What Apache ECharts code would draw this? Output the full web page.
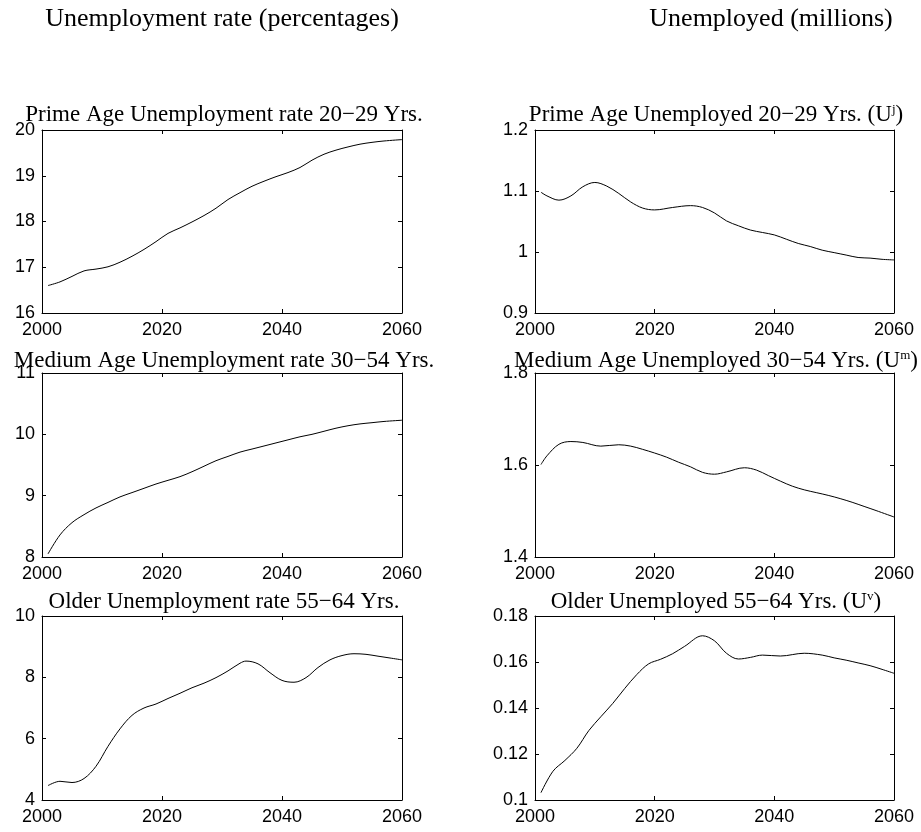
<!DOCTYPE html>
<html>
<head>
<meta charset="utf-8">
<script src="https://cdn.jsdelivr.net/npm/echarts@6/dist/echarts.min.js"></script>
<style>
  html, body { margin: 0; padding: 0; background: #fff; }
  #chart { width: 921px; height: 832px; }
</style>
</head>
<body>
<div id="chart"></div>
<script>
// ---- Unemployment rate (percent) by age group ----
const rateYoungYears = [2001, 2003, 2005, 2007, 2009, 2011, 2013, 2015, 2017, 2019,
                        2021, 2023, 2025, 2027, 2029, 2031, 2033, 2035, 2037, 2039,
                        2041, 2043, 2045, 2047, 2049, 2051, 2053, 2055, 2057, 2060];
const rateYoung = [16.60, 16.68, 16.80, 16.92, 16.96, 17.01, 17.11, 17.24, 17.39, 17.56,
                   17.74, 17.86, 17.99, 18.13, 18.29, 18.48, 18.63, 18.77, 18.88, 18.98,
                   19.07, 19.18, 19.34, 19.47, 19.56, 19.63, 19.69, 19.73, 19.76, 19.79];

const rateMediumYears = [2001, 2003, 2005, 2007, 2009, 2011, 2013, 2015, 2017, 2019,
                         2021, 2023, 2025, 2027, 2029, 2031, 2033, 2035, 2037, 2039,
                         2041, 2043, 2045, 2047, 2049, 2051, 2053, 2055, 2057, 2060];
const rateMedium = [8.05, 8.36, 8.56, 8.69, 8.80, 8.89, 8.98, 9.05, 9.12, 9.19,
                    9.25, 9.31, 9.39, 9.48, 9.57, 9.64, 9.71, 9.76, 9.81, 9.86,
                    9.91, 9.96, 10.00, 10.05, 10.10, 10.14, 10.17, 10.19, 10.21, 10.23];

const rateOlderYears = [2001, 2003, 2005, 2007, 2009, 2011, 2013, 2015, 2017, 2019,
                        2021, 2023, 2025, 2027, 2029, 2031, 2033, 2034, 2036, 2038,
                        2040, 2042, 2044, 2046, 2048, 2050, 2052, 2054, 2056, 2058, 2060];
const rateOlder = [4.47, 4.61, 4.57, 4.70, 5.10, 5.75, 6.32, 6.76, 7.00, 7.13,
                   7.31, 7.48, 7.66, 7.81, 7.99, 8.21, 8.46, 8.53, 8.44, 8.15,
                   7.90, 7.84, 7.99, 8.32, 8.57, 8.71, 8.77, 8.75, 8.69, 8.63, 8.57];

// ---- Unemployed persons (millions) by age group ----
const unempYoungYears = [2001, 2002, 2004, 2006, 2008, 2010, 2012, 2014, 2016, 2018,
                         2020, 2023, 2026, 2028, 2030, 2032, 2034, 2036, 2038, 2040,
                         2042, 2044, 2046, 2048, 2050, 2052, 2054, 2056, 2058, 2060];
const unempYoung = [1.098, 1.092, 1.085, 1.092, 1.107, 1.114, 1.108, 1.096, 1.082, 1.072,
                    1.069, 1.073, 1.076, 1.073, 1.064, 1.051, 1.043, 1.036, 1.032, 1.028,
                    1.021, 1.014, 1.009, 1.003, 0.999, 0.995, 0.991, 0.990, 0.988, 0.987];

const unempMediumYears = [2001, 2002, 2004, 2006, 2008, 2011, 2014, 2016, 2018, 2020,
                          2022, 2024, 2026, 2028, 2030, 2032, 2035, 2037, 2039, 2041,
                          2043, 2045, 2047, 2049, 2051, 2053, 2055, 2057, 2060];
const unempMedium = [1.601, 1.620, 1.645, 1.651, 1.649, 1.641, 1.644, 1.641, 1.634, 1.626,
                     1.617, 1.606, 1.596, 1.584, 1.580, 1.585, 1.594, 1.589, 1.577, 1.565,
                     1.554, 1.546, 1.540, 1.534, 1.527, 1.519, 1.510, 1.501, 1.487];

const unempOlderYears = [2001, 2003, 2005, 2007, 2009, 2011, 2013, 2015, 2017, 2019,
                         2021, 2023, 2025, 2028, 2030, 2032, 2034, 2036, 2038, 2041,
                         2045, 2048, 2050, 2052, 2054, 2056, 2058, 2060];
const unempOlder = [0.1032, 0.1125, 0.1172, 0.1225, 0.1302, 0.1362, 0.1420, 0.1485, 0.1545, 0.1592,
                    0.1612, 0.1636, 0.1668, 0.1714, 0.1692, 0.1638, 0.1613, 0.1620, 0.1630, 0.1626,
                    0.1638, 0.1630, 0.1618, 0.1608, 0.1596, 0.1584, 0.1568, 0.1551];

// Axis ranges: [min, max, step]
const xRange = [2000, 2060, 20];
const yRanges = [[16, 20, 1], [0.9, 1.2, 0.1],
                 [8, 11, 1],  [1.4, 1.8, 0.2],
                 [4, 10, 2],  [0.1, 0.18, 0.02]];

const columnHeaders = ['Unemployment rate (percentages)', 'Unemployed (millions)'];
const panelTitles = [
  'Prime Age Unemployment rate 20−29 Yrs.',
  'Prime Age Unemployed 20−29 Yrs. (U{s|j})',
  'Medium Age Unemployment rate 30−54 Yrs.',
  'Medium Age Unemployed 30−54 Yrs. (U{s|m})',
  'Older Unemployment rate 55−64 Yrs.',
  'Older Unemployed 55−64 Yrs. (U{s|v})'
];
const panelYears = [rateYoungYears, unempYoungYears, rateMediumYears, unempMediumYears, rateOlderYears, unempOlderYears];
const panelSeries = [rateYoung, unempYoung, rateMedium, unempMedium, rateOlder, unempOlder];

// Layout of the 3 x 2 panel grid (pixels)
const colLeft = [42, 535], colWidth = [360, 359];
const rowTop = [130, 373, 616], rowHeight = [183, 184, 184];
const titleBaseline = [122, 368, 609];
const titleCenter = [224, 716];

const SANS = '"Liberation Sans", Arimo, Helvetica, Arial, sans-serif';
const SERIF = '"Liberation Serif", Tinos, "Times New Roman", serif';

const grids = [], xAxes = [], yAxes = [], series = [], titles = [];

function tickAxisBase() {
  return {
    axisLine: { show: true, onZero: false, lineStyle: { color: '#000', width: 1 } },
    axisTick: { show: true, inside: true, length: 4, lineStyle: { color: '#000', width: 1 } },
    splitLine: { show: false }
  };
}

panelSeries.forEach((vals, i) => {
  const row = Math.floor(i / 2), col = i % 2;
  grids.push({
    left: colLeft[col], top: rowTop[row], width: colWidth[col], height: rowHeight[row],
    show: false, containLabel: false
  });
  const [ymin, ymax, ystep] = yRanges[i];
  // bottom + top x axes
  xAxes.push(Object.assign(tickAxisBase(), {
    type: 'value', gridIndex: i, position: 'bottom',
    min: xRange[0], max: xRange[1], interval: xRange[2],
    axisLabel: { show: true, color: '#000', fontSize: 18, fontFamily: SANS, margin: 8,
                 formatter: v => String(v) }
  }));
  xAxes.push(Object.assign(tickAxisBase(), {
    type: 'value', gridIndex: i, position: 'top',
    min: xRange[0], max: xRange[1], interval: xRange[2],
    axisLabel: { show: false }
  }));
  // left + right y axes
  yAxes.push(Object.assign(tickAxisBase(), {
    type: 'value', gridIndex: i, position: 'left',
    min: ymin, max: ymax, interval: ystep,
    axisLabel: { show: true, color: '#000', fontSize: 18, fontFamily: SANS, margin: 7 }
  }));
  yAxes.push(Object.assign(tickAxisBase(), {
    type: 'value', gridIndex: i, position: 'right',
    min: ymin, max: ymax, interval: ystep,
    axisLabel: { show: false }
  }));
  const yrs = panelYears[i];
  series.push({
    type: 'line',
    xAxisIndex: 2 * i, yAxisIndex: 2 * i,
    data: yrs.map((y, k) => [y, vals[k]]),
    smooth: 0.35,
    showSymbol: false,
    silent: true,
    lineStyle: { color: '#000', width: 1 },
    z: 3
  });
  titles.push({
    text: panelTitles[i],
    left: titleCenter[col], textAlign: 'center',
    top: titleBaseline[row] - 19,
    padding: 0,
    textStyle: {
      color: '#000', fontSize: 23, fontWeight: 'normal', fontFamily: SERIF, lineHeight: 23,
      rich: {
        s: { fontSize: 13, lineHeight: 13, verticalAlign: 'top', fontFamily: SERIF, color: '#000' }
      }
    }
  });
});

const headerStyle = { color: '#000', fontSize: 26, fontWeight: 'normal', fontFamily: SERIF, lineHeight: 26 };
titles.push({ text: columnHeaders[0], left: 222, textAlign: 'center', top: 6, padding: 0, textStyle: headerStyle });
titles.push({ text: columnHeaders[1], left: 771, textAlign: 'center', top: 6, padding: 0, textStyle: headerStyle });

const chart = echarts.init(document.getElementById('chart'), null, { renderer: 'canvas' });
chart.setOption({
  animation: false,
  backgroundColor: '#fff',
  title: titles,
  grid: grids,
  xAxis: xAxes,
  yAxis: yAxes,
  series: series
});
</script>
</body>
</html>
